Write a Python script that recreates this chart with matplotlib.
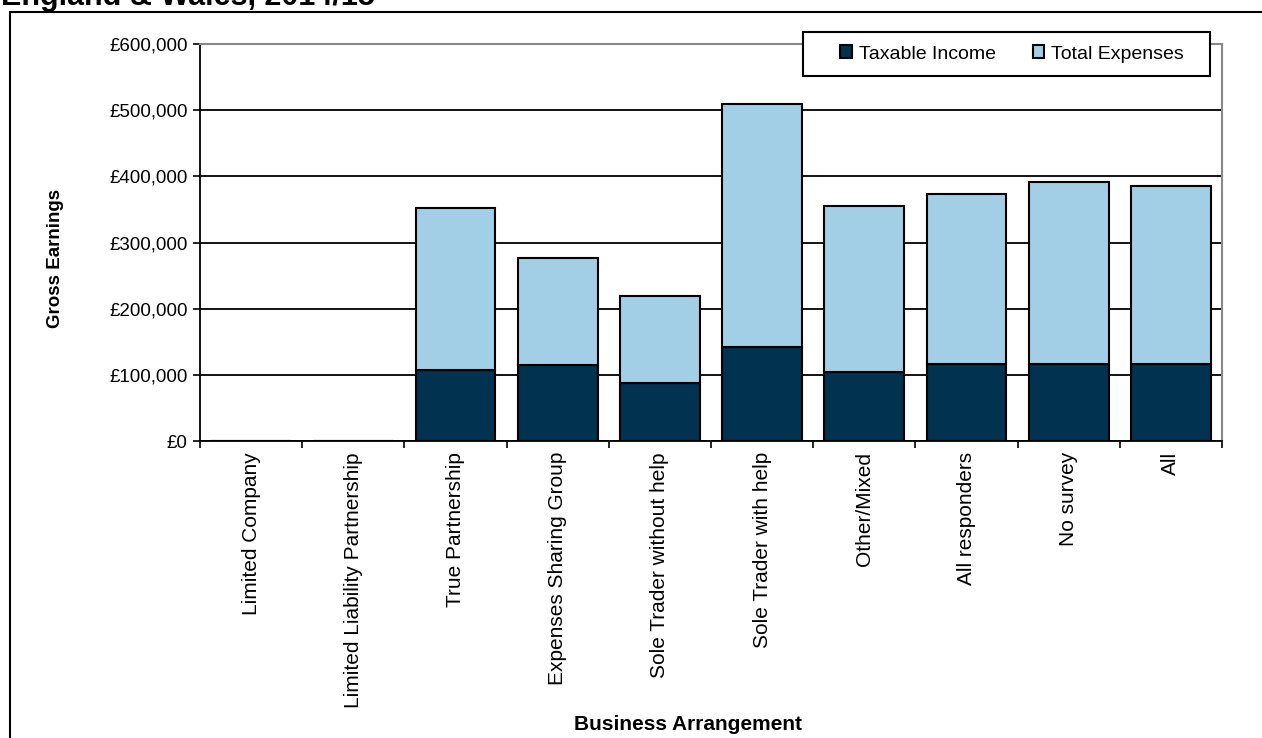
import matplotlib
matplotlib.use("Agg")
import matplotlib.pyplot as plt
import numpy as np
from matplotlib.patches import Rectangle
from matplotlib.ticker import FuncFormatter, FixedLocator

categories = ["Limited Company", "Limited Liability Partnership", "True Partnership",
              "Expenses Sharing Group", "Sole Trader without help", "Sole Trader with help",
              "Other/Mixed", "All responders", "No survey", "All"]
taxable_income = [0, 0, 108000, 115000, 87000, 142000, 104000, 116000, 116000, 116000]
gross_total = [0, 0, 352000, 276000, 219000, 509000, 355000, 373000, 391000, 385000]
total_expenses = [g - t for g, t in zip(gross_total, taxable_income)]

plt.rcParams['font.family'] = ['Liberation Sans', 'DejaVu Sans']

W, H = 1262, 738
fig = plt.figure(figsize=(W / 100, H / 100), dpi=100)
ax = fig.add_axes([200/W, 1-441/H, 1022/W, 397/H])

x = np.arange(len(categories))
dark = "#01324F"
light = "#A2CFE6"
ax.bar(x, taxable_income, width=0.78, color=dark, edgecolor="black", linewidth=1.5,
       label="Taxable Income", zorder=3)
ax.bar(x, total_expenses, width=0.78, bottom=taxable_income, color=light, edgecolor="black",
       linewidth=1.5, label="Total Expenses", zorder=3)

ax.set_xlim(-0.5, len(categories) - 0.5)
ax.set_ylim(0, 600000)
ax.set_yticks(np.arange(0, 600001, 100000))
ax.yaxis.set_major_formatter(FuncFormatter(lambda v, p: "£{:,.0f}".format(v)))
ax.yaxis.grid(True, color="black", linewidth=1.3, zorder=0)
ax.set_axisbelow(True)

ax.set_xticks(x)
ax.set_xticklabels(categories, rotation=90, fontsize=15)
ax.tick_params(axis='x', length=0, pad=8)
ax.xaxis.set_minor_locator(FixedLocator(np.arange(-0.5, len(categories), 1.0)))
ax.tick_params(axis='x', which='minor', length=5, width=1.2, color="black")
ax.tick_params(axis='y', labelsize=13.5, length=5, width=1.2, pad=4)

for s in ["top", "right"]:
    ax.spines[s].set_color("#888888")
    ax.spines[s].set_linewidth(1.5)
for s in ["left", "bottom"]:
    ax.spines[s].set_color("black")
    ax.spines[s].set_linewidth(1.3)

fig.text(56/W, 1 - 258/H, "Gross Earnings", fontsize=13.5, fontweight="bold",
         rotation=90, ha="center", va="center")
fig.text(688/W, 1 - 724/H, "Business Arrangement", fontsize=15,
         fontweight="bold", ha="center", va="center")

# legend box (white, on top of the plot frame)
fig.patches.append(Rectangle((803/W, 1 - 76/H), 407/W, 44/H, transform=fig.transFigure,
                             facecolor="white", edgecolor="black", linewidth=1.5, zorder=5))
leg = fig.legend(loc="center", bbox_to_anchor=(1012/W, 1 - 54/H), ncol=2,
                 fontsize=14, frameon=False,
                 handlelength=0.6, handleheight=0.6, handletextpad=0.35, columnspacing=1.9,
                 borderpad=0.2, borderaxespad=0)
leg.set_zorder(6)

fig.patches.append(Rectangle((10/W, -0.02), 1.1, 1 - 12/H + 0.02, transform=fig.transFigure,
                             fill=False, edgecolor="black", linewidth=1.5))
fig.text(1/W, 1 - 5/H, "England & Wales, 2014/15", fontsize=22, fontweight="bold",
         ha="left", va="baseline")

fig.savefig("out.png", dpi=100)
